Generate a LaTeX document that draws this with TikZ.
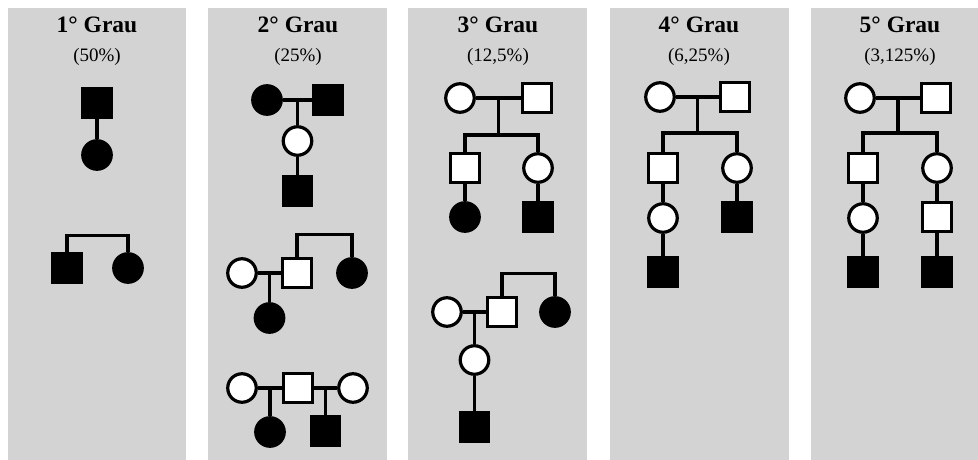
\documentclass[tikz,border=0pt]{standalone}
\usepackage{fontspec}
\setmainfont{Liberation Serif}
\usetikzlibrary{calc}
\definecolor{panelgray}{RGB}{211,211,212}
\tikzset{
  panel/.style={fill=panelgray, draw=none},
  grau/.style={anchor=base, font=\fontsize{23.5}{26}\selectfont\bfseries, inner sep=0pt},
  pct/.style={anchor=base, font=\fontsize{19}{21}\selectfont, inner sep=0pt},
  symb/.style={draw=black, line width=3.2pt, inner sep=0pt},
  sqo/.style={symb, rectangle, minimum size=28.5pt, fill=white},
  sqf/.style={symb, rectangle, minimum size=28.5pt, fill=black},
  cio/.style={symb, circle, minimum size=28.5pt, fill=white},
  cif/.style={symb, circle, minimum size=28.5pt, fill=black},
  link/.style={draw=black, line width=3.2pt},
}
\begin{document}
\begin{tikzpicture}[x=1pt, y=-1pt]
\useasboundingbox (0,0) rectangle (978,460);
\fill[white] (0,0) rectangle (978,460);

% grey columns
\path[panel] (8,8) rectangle (186,460);
\path[panel] (208,8) rectangle (387,460);
\path[panel] (408,8) rectangle (587,460);
\path[panel] (610,8) rectangle (789,460);
\path[panel] (811,8) rectangle (978,460);

% headings
\node[grau] (t1) at (97,33) {1° Grau};
\node[pct]  (p1) at (97,62) {(50\%)};
\node[grau] (t2) at (298,33) {2° Grau};
\node[pct]  (p2) at (298,62) {(25\%)};
\node[grau] (t3) at (498,33) {3° Grau};
\node[pct]  (p3) at (498,62) {(12,5\%)};
\node[grau] (t4) at (699,33) {4° Grau};
\node[pct]  (p4) at (699,62) {(6,25\%)};
\node[grau] (t5) at (900,33) {5° Grau};
\node[pct]  (p5) at (900,62) {(3,125\%)};

% ---- 1st degree ----
\node[sqf] (a1) at (97,103) {};
\node[cif] (a2) at (97,155) {};
\draw[link] (a1.south) -- (a2.north);

\node[sqf] (b1) at (67,268) {};
\node[cif] (b2) at (128,268) {};
\draw[link] (b1.north) -- ++(0,-17) -| (b2.north);

% ---- 2nd degree ----
\node[cif] (c1) at (267,100) {};
\node[sqf] (c2) at (328,100) {};
\draw[link] (c1.east) -- (c2.west);
\coordinate (c-m) at ($(c1.east)!0.5!(c2.west)$);
\node[cio] (c3) at (c-m |- 0,141) {};
\node[sqf] (c4) at (c-m |- 0,191) {};
\draw[link] (c-m) -- (c3.north);
\draw[link] (c3.south) -- (c4.north);

\node[cio] (d1) at (242,273) {};
\node[sqo] (d2) at (297,273) {};
\node[cif] (d3) at (352,273) {};
\draw[link] (d1.east) -- (d2.west);
\draw[link] (d2.north) -- ++(0,-23) -| (d3.north);
\coordinate (d-m) at ($(d1.east)!0.5!(d2.west)$);
\node[cif] (d4) at (d-m |- 0,318) {};
\draw[link] (d-m) -- (d4.north);

\node[cio] (e1) at (242,388) {};
\node[sqo] (e2) at (298,388) {};
\node[cio] (e3) at (353,388) {};
\draw[link] (e1.east) -- (e2.west);
\draw[link] (e2.east) -- (e3.west);
\coordinate (e-m1) at ($(e1.east)!0.5!(e2.west)$);
\coordinate (e-m2) at ($(e2.east)!0.5!(e3.west)$);
\node[cif] (e4) at (e-m1 |- 0,432) {};
\node[sqf] (e5) at (e-m2 |- 0,431) {};
\draw[link] (e-m1) -- (e4.north);
\draw[link] (e-m2) -- (e5.north);

% ---- 3rd degree ----
\node[cio] (f1) at (460,98) {};
\node[sqo] (f2) at (537,98) {};
\draw[link] (f1.east) -- (f2.west);
\coordinate (f-m) at ($(f1.east)!0.5!(f2.west)$);
\coordinate (f-s) at (f-m |- 0,135);
\node[sqo] (f3) at (465,168) {};
\node[cio] (f4) at (538,168) {};
\node[cif] (f5) at (465,217) {};
\node[sqf] (f6) at (538,217) {};
\draw[link] (f-m) -- (f-s);
\draw[link] (f3.north) |- (f-s) -| (f4.north);
\draw[link] (f3.south) -- (f5.north);
\draw[link] (f4.south) -- (f6.north);

\node[cio] (g1) at (447,312) {};
\node[sqo] (g2) at (502,312) {};
\node[cif] (g3) at (555,312) {};
\draw[link] (g1.east) -- (g2.west);
\draw[link] (g2.north) -- ++(0,-23) -| (g3.north);
\coordinate (g-m) at ($(g1.east)!0.5!(g2.west)$);
\node[cio] (g4) at (g-m |- 0,360) {};
\node[sqf] (g5) at (g-m |- 0,427) {};
\draw[link] (g-m) -- (g4.north);
\draw[link] (g4.south) -- (g5.north);

% ---- 4th degree ----
\node[cio] (h1) at (660,97) {};
\node[sqo] (h2) at (735,97) {};
\draw[link] (h1.east) -- (h2.west);
\coordinate (h-m) at ($(h1.east)!0.5!(h2.west)$);
\coordinate (h-s) at (h-m |- 0,133);
\node[sqo] (h3) at (663,168) {};
\node[cio] (h4) at (737,168) {};
\node[cio] (h5) at (663,218) {};
\node[sqf] (h6) at (663,272) {};
\node[sqf] (h7) at (737,217) {};
\draw[link] (h-m) -- (h-s);
\draw[link] (h3.north) |- (h-s) -| (h4.north);
\draw[link] (h3.south) -- (h5.north);
\draw[link] (h5.south) -- (h6.north);
\draw[link] (h4.south) -- (h7.north);

% ---- 5th degree ----
\node[cio] (i1) at (860,98) {};
\node[sqo] (i2) at (936,98) {};
\draw[link] (i1.east) -- (i2.west);
\coordinate (i-m) at ($(i1.east)!0.5!(i2.west)$);
\coordinate (i-s) at (i-m |- 0,133);
\node[sqo] (i3) at (863,168) {};
\node[cio] (i4) at (937,168) {};
\node[cio] (i5) at (863,218) {};
\node[sqf] (i6) at (863,272) {};
\node[sqo] (i7) at (937,217) {};
\node[sqf] (i8) at (937,272) {};
\draw[link] (i-m) -- (i-s);
\draw[link] (i3.north) |- (i-s) -| (i4.north);
\draw[link] (i3.south) -- (i5.north);
\draw[link] (i5.south) -- (i6.north);
\draw[link] (i4.south) -- (i7.north);
\draw[link] (i7.south) -- (i8.north);
\end{tikzpicture}
\end{document}
